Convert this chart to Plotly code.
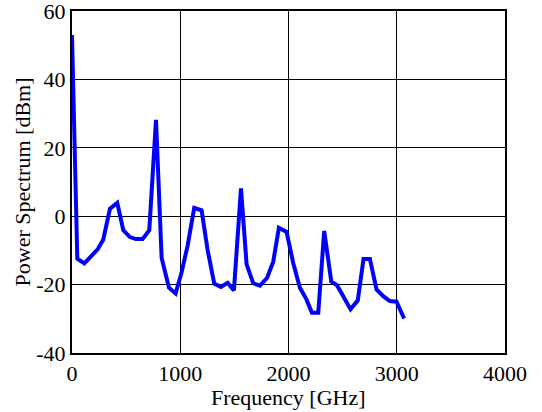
import plotly.graph_objects as go

freq_ghz = [0, 49, 114, 237, 289, 351, 418, 474, 535, 591, 652, 714, 776, 828, 896, 957,
            1012, 1068, 1129, 1197, 1253, 1314, 1376, 1438, 1496, 1561, 1613, 1674, 1736,
            1803, 1859, 1911, 1982, 2043, 2105, 2161, 2216, 2275, 2330, 2395, 2448, 2511,
            2573, 2640, 2693, 2752, 2813, 2875, 2936, 2998, 3068]
power_dbm = [53, -12.4, -13.8, -9.7, -6.8, 2.2, 3.9, -4.1, -6.1, -6.7, -6.7, -4.1, 28.2,
             -12.2, -20.9, -22.6, -16.5, -8.6, 2.4, 1.7, -9.9, -19.7, -20.7, -19.5, -21.7,
             8.1, -14.1, -19.6, -20.3, -18, -13.3, -3.4, -4.6, -13.6, -20.9, -24, -28.2,
             -28.2, -4.3, -19.1, -20.2, -23.6, -27.2, -24.6, -12.5, -12.5, -21.4, -23.4,
             -24.8, -25, -29.9]

x_ticks = [0, 1000, 2000, 3000, 4000]
y_ticks = [-40, -20, 0, 20, 40, 60]

fig = go.Figure()
fig.add_trace(go.Scatter(x=freq_ghz, y=power_dbm, mode="lines",
                         line=dict(color="#0000ff", width=4), showlegend=False))

font = dict(family="Liberation Serif, Times New Roman, serif", color="black", size=22)
fig.update_layout(
    width=542, height=412,
    margin=dict(l=72, r=37, t=11, b=59),
    paper_bgcolor="white", plot_bgcolor="white",
    font=font,
    annotations=[dict(text="Frequency [GHz]", xref="paper", yref="paper",
                      x=0.5, y=-44 / 342, xanchor="center", yanchor="middle",
                      showarrow=False, font=dict(size=22))],
)
fig.update_xaxes(range=[0, 4000], tickvals=x_ticks, ticktext=[str(v) for v in x_ticks],
                 showgrid=True, gridcolor="black", gridwidth=1,
                 showline=True, linecolor="black", linewidth=2, mirror=True,
                 ticks="", zeroline=False, tickfont=dict(size=22), automargin=False,
                 ticklabeloverflow="allow")
fig.update_yaxes(range=[-40, 60], tickvals=y_ticks, ticktext=[str(v) for v in y_ticks],
                 showgrid=True, gridcolor="black", gridwidth=1,
                 showline=True, linecolor="black", linewidth=2, mirror=True,
                 ticks="", zeroline=False, tickfont=dict(size=22), automargin=False,
                 ticklabeloverflow="allow",
                 title=dict(text="Power Spectrum [dBm]", font=dict(size=22), standoff=0))

fig.write_html("out.html", config={"displayModeBar": False},
               post_script="document.body.style.margin='0';document.body.style.overflow='hidden';")
